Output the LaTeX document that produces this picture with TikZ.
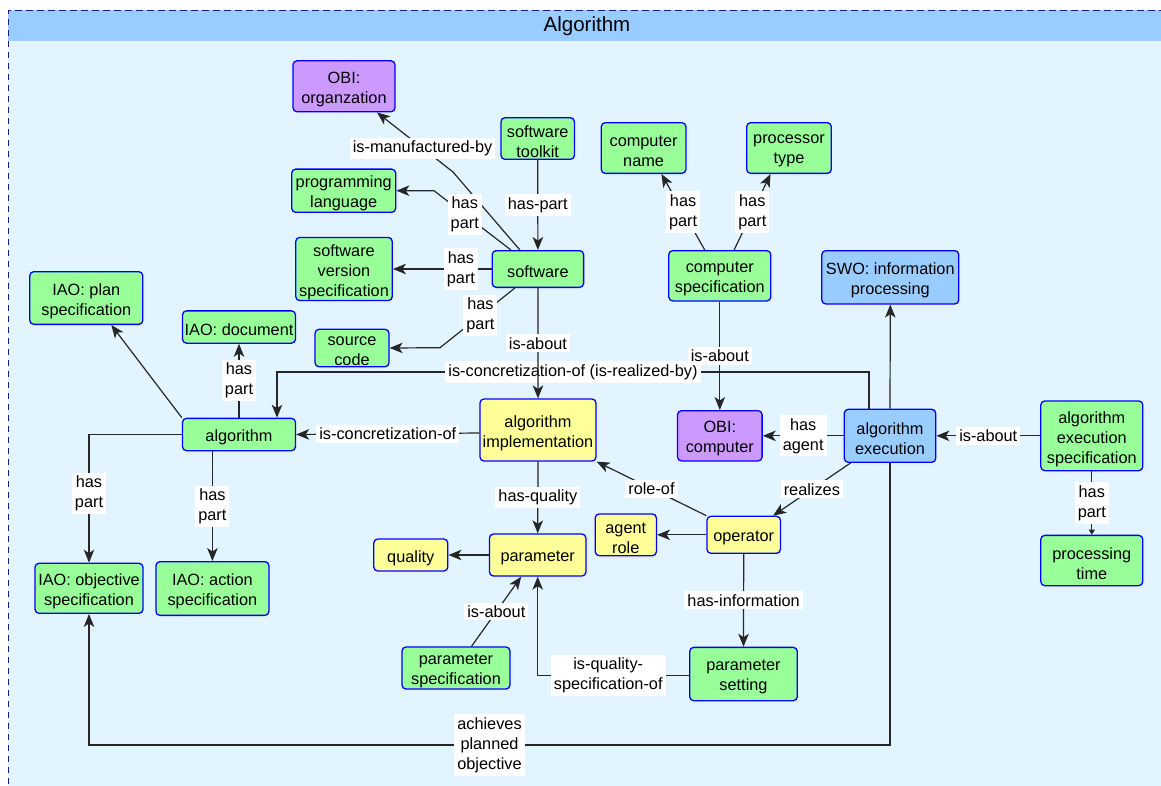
\documentclass[tikz,border=0pt]{standalone}
\usepackage{fontspec}
\setmainfont{Liberation Sans}
\usetikzlibrary{arrows.meta}

\definecolor{nodegreen}{HTML}{99FF99}
\definecolor{nodepurple}{HTML}{CC99FF}
\definecolor{nodeyellow}{HTML}{FFFF99}
\definecolor{nodeblue}{HTML}{99CCFF}
\definecolor{framefill}{HTML}{E1F4FF}
\definecolor{frameline}{HTML}{1A1A8C}

\newbox\boxtext

\tikzset{
  box/.style={draw=blue, line width=1.3pt, rounded corners=4pt, align=center, inner sep=1pt, font=\fontsize{16.3}{20}\selectfont,
    execute at begin node={\setbox\boxtext=\hbox\bgroup},
    execute at end node={\egroup\ht\boxtext=\dimexpr\ht\boxtext+6pt\relax\box\boxtext}},
  wh/.style 2 args={minimum width=#1pt, minimum height=#2pt},
  gbox/.style={box, fill=nodegreen},
  pbox/.style={box, fill=nodepurple},
  ybox/.style={box, fill=nodeyellow},
  bbox/.style={box, fill=nodeblue},
  edge/.style={draw=black!85, line width=1.2pt, -{Stealth[length=13pt, width=10.5pt, inset=3.5pt]}},
  small tip/.style={-{Triangle[length=5pt, width=6pt]}},
  lbl/.style={fill=white, inner sep=3pt, align=center, font=\fontsize{16.3}{20}\selectfont}
}

\begin{document}
\begin{tikzpicture}[x=1pt, y=-1pt]
\useasboundingbox (0,0) rectangle (1161,785);

\fill[framefill] (8,10) rectangle (1175,795);
\fill[nodeblue] (8,10) rectangle (1175,41);
\draw[frameline, line width=1pt, dash pattern=on 6.5pt off 4.5pt] (8,795) -- (8,10) -- (1175,10);
\node[font=\fontsize{20.5}{24}\selectfont] (title) at (587,26) {Algorithm};

\node[pbox, wh={102}{51}] (org) at (344,86.3) {OBI:\\organzation};
\node[gbox, wh={73.5}{41.6}] (toolkit) at (537.7,138.5) {software\\toolkit};
\node[gbox, wh={104}{37}] (proglang) at (343.7,190.7) {programming\\language};
\node[gbox, wh={96.5}{63}] (version) at (344,269) {software\\version\\specification};
\node[gbox, wh={91.4}{36.7}] (software) at (537.9,269) {software};
\node[gbox, wh={74}{37.4}] (source) at (352,348) {source\\code};
\node[gbox, wh={113}{52.7}] (plan) at (86.3,298) {IAO: plan\\specification};
\node[gbox, wh={113}{32.3}] (doc) at (239,327) {IAO: document};
\node[gbox, wh={84.6}{50.7}] (compname) at (643.6,148) {computer\\name};
\node[gbox, wh={84.6}{50.7}] (proctype) at (789,148) {processor\\type};
\node[gbox, wh={102}{50.3}] (compspec) at (719.8,275.8) {computer\\specification};
\node[bbox, wh={137}{53.3}] (infoproc) at (890.3,277.3) {SWO: information\\processing};
\node[gbox, wh={113}{32.3}] (algo) at (239,434.5) {algorithm};
\node[ybox, wh={116}{62}] (impl) at (538,430) {algorithm\\implementation};
\node[ybox, wh={96.4}{42}] (param) at (537.7,555) {parameter};
\node[ybox, wh={74}{32}] (quality) at (410.8,555) {quality};
\node[gbox, wh={108}{50}] (objective) at (89,588.3) {IAO: objective\\specification};
\node[gbox, wh={113}{53.7}] (action) at (212.4,588.5) {IAO: action\\specification};
\node[gbox, wh={108}{42}] (paramspec) at (456,668) {parameter\\specification};
\node[pbox, wh={84.6}{50.3}] (computer) at (719.8,435.8) {OBI:\\computer};
\node[bbox, wh={91.5}{53}] (exec) at (890,435.8) {algorithm\\execution};
\node[gbox, wh={102}{69.7}] (execspec) at (1091.8,435.8) {algorithm\\execution\\specification};
\node[gbox, wh={102}{50.3}] (proctime) at (1091.8,560.5) {processing\\time};
\node[ybox, wh={61.2}{41.7}] (agentrole) at (625.8,534.8) {agent\\role};
\node[ybox, wh={73.5}{37}] (operator) at (743.7,534.8) {operator};
\node[gbox, wh={107.6}{53.3}] (paramset) at (743.5,674) {parameter\\setting};

\coordinate (bottom) at (0,745);

\draw[edge] ([xshift=-18pt]software.north) -- (453,172) -- node[lbl,pos=.4] {is-manufactured-by} ([xshift=33pt]org.south);
\draw[edge] ([xshift=-27pt]software.north) -- node[lbl,pos=.6] {has\\part} (434,190.7) -- (proglang.east);
\draw[edge] (software.west) -- node[lbl,pos=.31] {has\\part} (version.east);
\draw[edge] ([xshift=-23pt]software.south) -- node[lbl,pos=.46] {has\\part} (440,347.7) -- (source.east);
\draw[edge] (toolkit.south) -- node[lbl] {has-part} (software.north);

\draw[edge] ([xshift=-21pt]exec.north) -- ++(0,-36.6) -| node[lbl,pos=.25] {is-concretization-of (is-realized-by)} ([xshift=38pt]algo.north);
\draw[edge] (software.south) -- node[lbl] {is-about} (impl.north);
\draw[edge] ([yshift=-3pt]impl.west) -- node[lbl] {is-concretization-of} (algo.east);

\draw[edge] (algo.north west) -- ([xshift=25pt]plan.south);
\draw[edge] (algo.north) -- node[lbl] {has\\part} (doc.south);
\draw[edge] (algo.west) -| node[lbl,pos=.73] {has\\part} (objective.north);
\draw[edge] (algo.south -| action.north) -- node[lbl] {has\\part} (action.north);

\draw[edge] (impl.south) -- node[lbl] {has-quality} (param.north);
\draw[edge] (param.west) -- (quality.east);
\draw[edge] ([xshift=15.5pt]paramspec.north) -- node[lbl] {is-about} ([xshift=-16.5pt]param.south);
\draw[edge] ([yshift=-1.7pt]paramset.west) -| node[lbl,pos=.267] {is-quality-\\specification-of} (param.south);

\draw[edge] (operator.west) -- (agentrole.east);
\draw[edge] (operator.north west) -- node[lbl] {role-of} (impl.south east);
\draw[edge] ([xshift=7pt]exec.south west) -- node[lbl] {realizes} ([xshift=-8pt]operator.north east);
\draw[edge] (operator.south) -- node[lbl] {has-information} (paramset.north);
\draw[edge] (exec.west) -- node[lbl] {has\\agent} (computer.east);
\draw[edge] (execspec.west) -- node[lbl] {is-about} (exec.east);
\draw[edge, small tip] (execspec.south) -- node[lbl] {has\\part} (proctime.north);
\draw[edge] (exec.north) -- (infoproc.south);
\draw[edge] (exec.south) -- (exec.south |- bottom) -| node[lbl,pos=.25] {achieves\\planned\\objective} (objective.south);

\draw[edge] ([xshift=-15pt]compspec.north) -- node[lbl] {has\\part} ([xshift=17.8pt]compname.south);
\draw[edge] ([xshift=14.3pt]compspec.north) -- node[lbl] {has\\part} ([xshift=-18.5pt]proctype.south);
\draw[edge] (compspec.south) -- node[lbl] {is-about} (computer.north);

\end{tikzpicture}
\end{document}
